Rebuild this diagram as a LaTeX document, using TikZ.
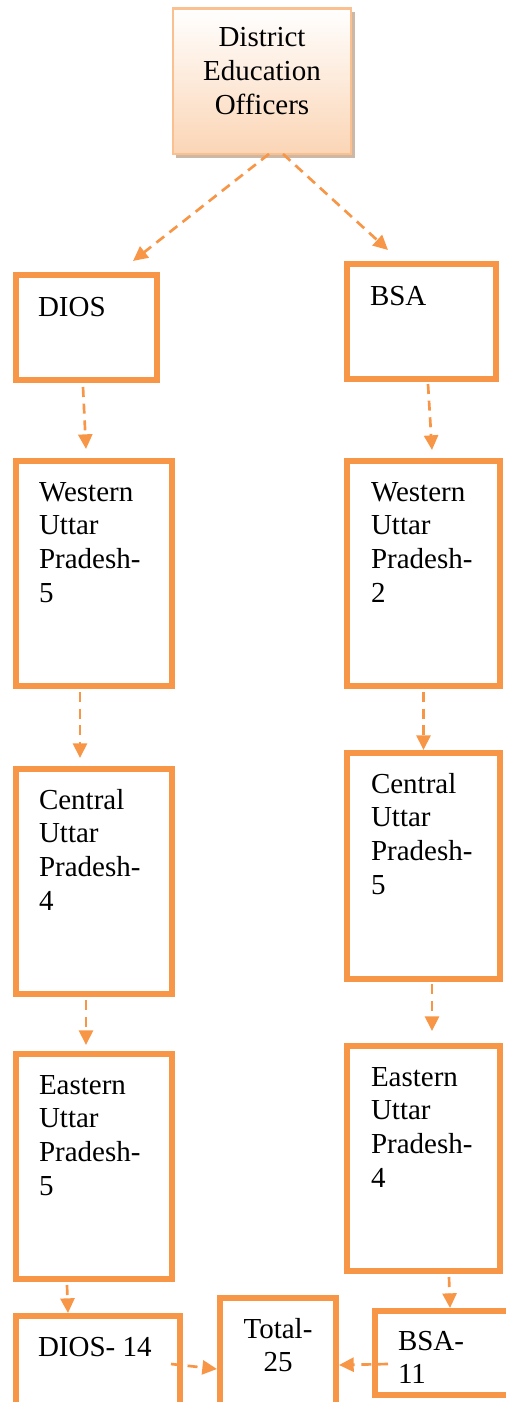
\documentclass[tikz,border=0pt]{standalone}
\usepackage{fontspec}
\setmainfont{Liberation Serif}
\usetikzlibrary{arrows.meta,calc,fit}
\definecolor{orng}{HTML}{F79646}
\definecolor{lorng}{HTML}{FAC090}
\definecolor{pch}{HTML}{FBD5B5}
\definecolor{shd}{HTML}{CDB8A6}
\newcommand\ltxt[1]{\vtop{\halign{##\hfil\cr#1\crcr}}}
\newcommand\ctxt[1]{\vtop{\halign{\hfil##\hfil\cr#1\crcr}}}
\begin{document}
\begin{tikzpicture}[x=0.75pt,y=-0.75pt,
  obox/.style={draw=orng,line width=4.5pt,inner sep=0pt,outer sep=0pt,fill=white},
  txt/.style={inner sep=0pt,outer sep=0pt,font=\fontsize{21.75pt}{25.3pt}\selectfont},
  arr/.style={draw=orng,line width=2pt,dash pattern=on 7.5pt off 5pt,-{Triangle[length=11pt,width=10.5pt]}}]
\useasboundingbox (0,0) rectangle (506,1402);
% top box
\fill[shd] (176,12) rectangle (355,158);
\node[fit={(173,8.5) (351,154)},inner sep=0pt,outer sep=0pt,draw=lorng,line width=2pt,top color=white,bottom color=pch] (top) {};
\node[txt,anchor=base] (toptxt) at (262,46.7) {\ctxt{District\cr Education\cr Officers}};
% left column
\node[obox,fit={(16,275) (157,380)}] (dios) {};
\node[txt,anchor=base west] (diost) at (38,316) {DIOS};
\node[obox,fit={(16,461) (172,686)}] (wl) {};
\node[txt,anchor=base west] (wlt) at (39,501) {\ltxt{Western\cr Uttar\cr Pradesh-\cr 5}};
\node[obox,fit={(16,769) (172,994)}] (cl) {};
\node[txt,anchor=base west] (clt) at (39,809) {\ltxt{Central\cr Uttar\cr Pradesh-\cr 4}};
\node[obox,fit={(16,1054) (172,1279)}] (el) {};
\node[txt,anchor=base west] (elt) at (39,1094) {\ltxt{Eastern\cr Uttar\cr Pradesh-\cr 5}};
% right column
\node[obox,fit={(347,264) (496,379)}] (bsa) {};
\node[txt,anchor=base west] (bsat) at (370,305) {BSA};
\node[obox,fit={(347,461) (500,686)}] (wr) {};
\node[txt,anchor=base west] (wrt) at (371,501) {\ltxt{Western\cr Uttar\cr Pradesh-\cr 2}};
\node[obox,fit={(347,753) (500,979)}] (cr) {};
\node[txt,anchor=base west] (crt) at (371,793) {\ltxt{Central\cr Uttar\cr Pradesh-\cr 5}};
\node[obox,fit={(347,1046) (500,1271)}] (er) {};
\node[txt,anchor=base west] (ert) at (371,1086) {\ltxt{Eastern\cr Uttar\cr Pradesh-\cr 4}};
% bottom row
\node[obox,fit={(16,1316) (180,1410)}] (d14) {};
\node[txt,anchor=base west] (d14t) at (38,1356) {DIOS- 14};
\node[obox,fit={(220,1298) (336,1410)}] (total) {};
\node[txt,anchor=base] (totalt) at (278,1338) {\ctxt{Total-\cr 25}};
\node[obox,fit={(375,1311) (512,1395)}] (b11) {};
\node[txt,anchor=base west] (b11t) at (398,1350) {\ltxt{BSA-\cr 11}};
% connectors
\draw[arr] ($(top.south)+(7,0)$) -- ($(dios.north)+(46.5,-14)$);
\draw[arr] ($(top.south)+(21,0)$) -- ($(bsa.north)+(-33.5,-14)$);
\draw[arr] ($(dios.south)+(-3.5,7)$) -- ($(wl.north)+(-8,-12)$);
\draw[arr] ($(bsa.south)+(6.5,5)$) -- ($(wr.north)+(8.5,-11)$);
\draw[arr] ($(wl.south)+(-14,6)$) -- ($(cl.north)+(-14,-11)$);
\draw[arr] ($(wr.south)+(0,6)$) -- ($(cr.north)+(0,-3)$);
\draw[arr] ($(cl.south)+(-8,6)$) -- ($(el.north)+(-8,-9)$);
\draw[arr] ($(cr.south)+(8.5,5)$) -- ($(er.north)+(8.5,-15)$);
\draw[arr] ($(el.south)+(-27,6)$) -- ($(d14.north)+(-30,-3)$);
\draw[arr] ($(er.south)+(25.5,6)$) -- ($(b11.north)+(6.5,-3)$);
\draw[arr] ($(d14.north east)+(-9,48)$) -- ($(total.north west)+(-3,71)$);
\draw[arr] ($(b11.north west)+(13,53)$) -- ($(total.north east)+(3,67)$);
\end{tikzpicture}
\end{document}
